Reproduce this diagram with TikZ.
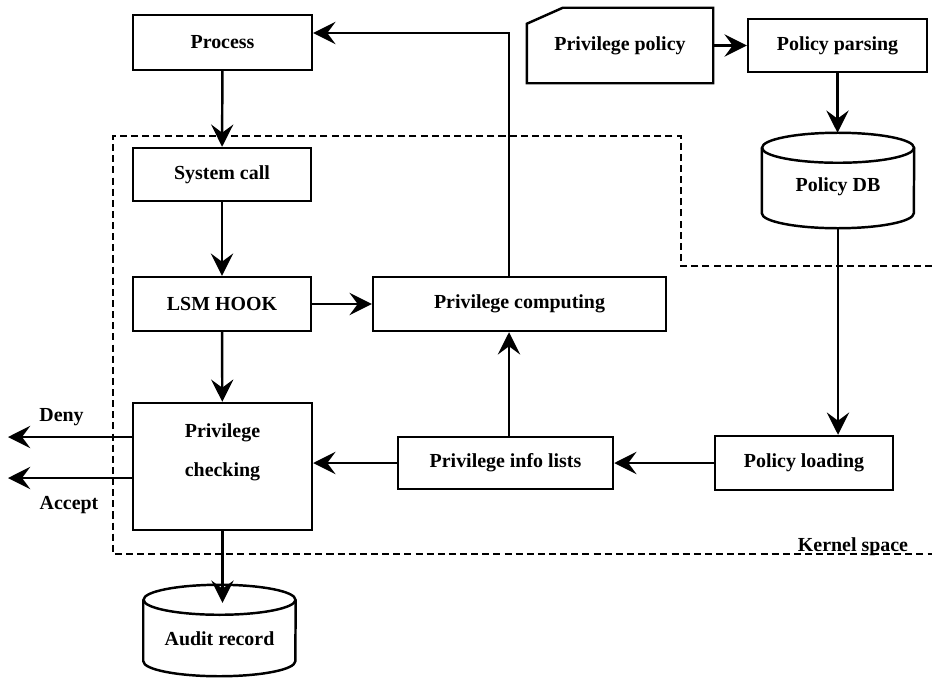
\documentclass[tikz,border=0pt]{standalone}
\usepackage{fontspec}
\setmainfont{Liberation Serif}
\usetikzlibrary{arrows.meta,calc}

\begin{document}
\begin{tikzpicture}[x=0.03cm, y=-0.03cm, font=\bfseries\fontsize{17}{20}\selectfont]

      % Styles: thick boxes, thick arrows with big stealth heads, and the dashed kernel border
      \tikzstyle{box}=[draw, line width=2.1pt, inner sep=0pt, minimum height=54*\px]
      \tikzstyle{drum}=[inner sep=0pt, minimum width=152*\px]
      \tikzstyle{flow}=[line width=2.1pt, -{Stealth[length=19pt,width=19pt,inset=7pt]}]
      \tikzstyle{kernel}=[line width=2.1pt, dash pattern=on 6pt off 3.5pt]


      % Define dimensions
      \def\px{0.03cm}   % One pixel of the original drawing

      \def\rx{2.28cm}   % x radius of the cylinder caps
      \def\ry{0.45cm}   % y radius of the cylinder caps


      \useasboundingbox (0,0) rectangle (932,678);

      % User space: process and the policy files
      \node[box, minimum width=179*\px, minimum height=55*\px] (proc) at (222.5,42.5) {Process};
      \node[inner sep=0pt, minimum width=186*\px, minimum height=75*\px] (pol) at (620,45.5) {Privilege policy};
      \draw [line width=2.1pt] (pol.south west) -- ($(pol.north west)+(0,16)$) -- ($(pol.north west)+(36,0)$) -- (pol.north east) -- (pol.south east) -- cycle;   % Sheet with a cut corner
      \node[box, minimum width=179*\px, minimum height=53*\px] (parse) at (837.5,45.5) {Policy parsing};

      % Policy DB cylinder
      \node[drum, minimum height=95*\px] (db) at (838,180.5) {};
      \node (dbtxt) at ($(db.center)+(0,6)$) {Policy DB};
      \draw [line width=2.1pt] ([yshift=-\ry]db.north) ellipse [x radius=\rx, y radius=\ry];
      \draw [line width=2.1pt] ([yshift=-\ry]db.north west) -- ([yshift=\ry]db.south west) arc [start angle=180, end angle=360, x radius=\rx, y radius=\ry] -- ([yshift=-\ry]db.north east);

      % Kernel side
      \node[box, minimum width=178*\px, minimum height=53*\px] (sys) at (222,174.5) {System call};
      \node[box, minimum width=178*\px] (lsm) at (222,304) {LSM HOOK};
      \node[box, minimum width=293*\px] (comp) at (519.5,304) {Privilege computing};
      \node[box, minimum width=179*\px, minimum height=127*\px] (check) at (222.5,466.5) {};
      \node[align=center, font=\bfseries\fontsize{17}{33}\selectfont] (checktxt) at ($(check.center)+(0,-14)$) {Privilege\\checking};
      \node[box, minimum width=215*\px, minimum height=52*\px] (info) at (505.5,463) {Privilege info lists};
      \node[box, minimum width=178*\px] (load) at (804,463) {Policy loading};

      % Audit record cylinder
      \node[drum, minimum height=91*\px] (audit) at (219.5,630.5) {};
      \node (audittxt) at ($(audit.center)+(0,8)$) {Audit record};
      \draw [line width=2.1pt] ([yshift=-\ry]audit.north) ellipse [x radius=\rx, y radius=\ry];
      \draw [line width=2.1pt] ([yshift=-\ry]audit.north west) -- ([yshift=\ry]audit.south west) arc [start angle=180, end angle=360, x radius=\rx, y radius=\ry] -- ([yshift=-\ry]audit.north east);

      % Kernel space border
      \draw [kernel] (932,266) -- (681,266) -- (681,136) -- (113,136) -- (113,554) -- (932,554);
      \node[anchor=base] (kspace) at (853,551) {Kernel space};

      % Labels of the two results
      \node (deny) at (61.5,417) {Deny};
      \node (accept) at (69,505) {Accept};


      % Coordinates used by the connectors
      \coordinate (denyend) at (8,437);
      \coordinate (acceptend) at (8,478);
      \coordinate (atip) at ($(audit.north)+(0,18)$);
      \coordinate (up) at ($(info.north)+(3.5,0)$);
      \coordinate (pback) at ($(proc.east)+(0,-9.5)$);

      % Main call path
      \draw [flow] (proc) -- (sys);
      \draw [flow] (sys) -- (lsm);
      \draw [flow] (lsm) -- (check);
      \draw [flow] (lsm) -- (comp);
      \draw [flow] (check.south) -- (check.south |- atip);
      \draw [flow] (check.west |- denyend) -- (denyend);
      \draw [flow] (check.west |- acceptend) -- (acceptend);

      % Policy path
      \draw [flow] (pol) -- (parse);
      \draw [flow] (parse.south) -- (parse.south |- db.north);
      \draw [flow] (db.south) -- (db.south |- load.north);
      \draw [flow] (load) -- (info);
      \draw [flow] (info.west) -- (info.west -| check.east);

      % Privilege computing, and the result going back to the process
      \draw [flow] (up) -- (up |- comp.south);
      \draw [flow] (up |- comp.north) -- (up |- pback) -- (pback);

\end{tikzpicture}
\end{document}
